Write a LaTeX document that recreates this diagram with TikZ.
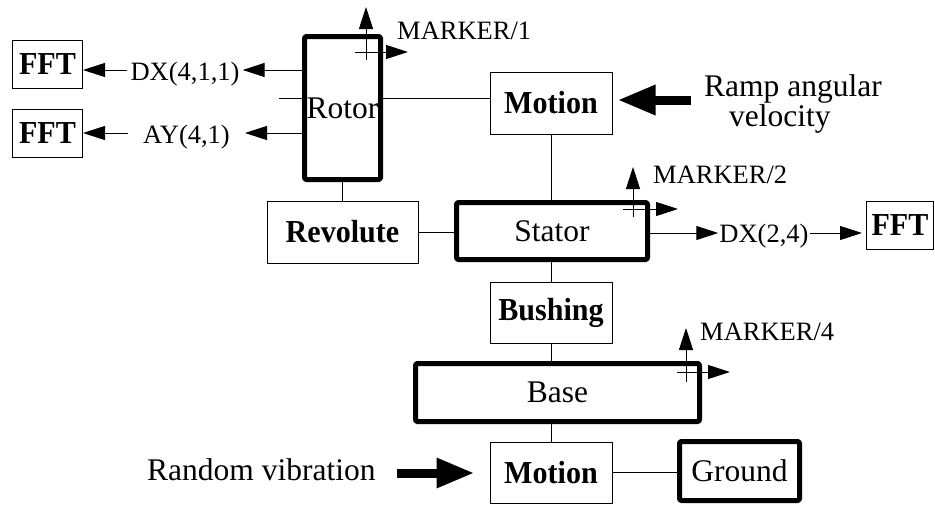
\documentclass[tikz,border=0pt]{standalone}
\usepackage{fontspec}
\setmainfont{Liberation Serif}
\newfontfamily\condbold[FakeStretch=0.94]{Liberation Serif Bold}
\usetikzlibrary{arrows.meta,calc}
\newcommand\fmain{\fontsize{31.5}{36}\selectfont}
\newcommand\fbld{\condbold\fontsize{32}{36}\selectfont}
\newcommand\flbl{\fontsize{26.5}{30}\selectfont}
\newcommand\ffft{\condbold\fontsize{32}{34}\selectfont}
\begin{document}
\begin{tikzpicture}[x=1pt,y=1pt,
  thinbox/.style={draw, line width=1pt, inner sep=0pt, font=\fbld},
  thickbox/.style={draw, line width=5pt, line join=round, rounded corners=1.5pt, inner sep=0pt, font=\fmain},
  fftbox/.style={draw, line width=1pt, inner sep=0pt, minimum width=70pt, minimum height=48pt, font=\ffft},
  wire/.style={line width=1pt},
  sig/.style={line width=1pt, -{Triangle[length=22pt,width=14pt]}},
  bigarrow/.style={line width=9pt, -{Triangle[length=38pt,width=28pt]}},
  lbl/.style={font=\flbl, inner ysep=0pt},
  txt/.style={font=\fmain, inner sep=0pt},
]
\useasboundingbox (0,0) rectangle (935,-506);

% boxes
\node[fftbox] (fft1) at (47.5,-64) {FFT};
\node[fftbox] (fft2) at (47.5,-133.5) {FFT};
\node[fftbox, minimum width=67pt] (fft3) at (900,-225) {FFT};
\node[thickbox, minimum width=76pt, minimum height=143pt] (rotor) at (342.5,-108) {Rotor};
\node[thinbox, minimum width=122pt, minimum height=62pt] (m1) at (551,-103) {Motion};
\node[thinbox, minimum width=151pt, minimum height=62pt] (rev) at (342.5,-232) {Revolute};
\node[thickbox, minimum width=191pt, minimum height=57pt] (stator) at (552,-231) {Stator};
\node[thinbox, minimum width=122pt, minimum height=61pt] (bush) at (551,-312.5) {Bushing};
\node[thickbox, minimum width=284pt, minimum height=58pt] (base) at (557.5,-392.5) {Base};
\node[thinbox, minimum width=122pt, minimum height=61pt] (m2) at (551,-472.5) {Motion};
\node[thickbox, minimum width=120pt, minimum height=59pt] (ground) at (739.5,-471) {Ground};

% plain connectors
\coordinate (rl) at (279,-98);
\draw[wire] (rl) -- (rl -| rotor.west);
\draw[wire] (rl -| rotor.east) -- (rl -| m1.west);
\draw[wire] (rotor.south) -- (rev.north);
\draw[wire] (m1.south) -- (m1.south |- stator.north);
\draw[wire] (rev.east) -- (rev.east -| stator.west);
\draw[wire] (bush.north |- stator.south) -- (bush.north);
\draw[wire] (bush.south) -- (bush.south |- base.north);
\draw[wire] (m2.north |- base.south) -- (m2.north);
\draw[wire] (m2.east) -- (m2.east -| ground.west);

% output signals
\node[lbl, inner xsep=3pt, anchor=base] (dx1) at (185,-80) {DX(4,1,1)};
\coordinate (y1) at (0,-70);
\draw[sig] (y1 -| rotor.west) -- (y1 -| dx1.east);
\draw[sig] (y1 -| dx1.west) -- (y1 -| fft1.east);

\node[lbl, inner xsep=15pt, anchor=base] (ay) at (186.5,-143) {AY(4,1)};
\coordinate (y2) at (0,-133);
\draw[sig] (y2 -| rotor.west) -- (y2 -| ay.east);
\draw[sig] (y2 -| ay.west) -- (y2 -| fft2.east);

\node[lbl, inner xsep=1pt, anchor=base] (dx2) at (764,-242) {DX(2,4)};
\coordinate (y3) at (0,-233);
\draw[sig] (y3 -| stator.east) -- (y3 -| dx2.west);
\draw[sig, shorten >=4pt] (y3 -| dx2.east) -- (y3 -| fft3.west);

% markers
\coordinate (mk1) at (366,-52);
\draw[sig] ($(mk1)+(0,-8)$) -- ($(mk1)+(0,45)$);
\draw[sig] ($(mk1)+(-11,0)$) -- ($(mk1)+(42,0)$);
\node[lbl, inner sep=0pt, anchor=base west] (mk1l) at (397,-39) {MARKER/1};

\coordinate (mk2) at (633,-209);
\draw[sig] ($(mk2)+(0,-8)$) -- ($(mk2)+(0,42)$);
\draw[sig] ($(mk2)+(-10,0)$) -- ($(mk2)+(45,0)$);
\node[lbl, inner sep=0pt, anchor=base west] (mk2l) at (653,-183) {MARKER/2};

\coordinate (mk4) at (686,-372);
\draw[sig] ($(mk4)+(0,-10)$) -- ($(mk4)+(0,44)$);
\draw[sig] ($(mk4)+(-9,0)$) -- ($(mk4)+(44,0)$);
\node[lbl, inner sep=0pt, anchor=base west] (mk4l) at (700,-340) {MARKER/4};

% inputs
\node[txt, font=\fontsize{31.5}{30}\selectfont, align=left, anchor=north west] (ramp) at (704,-74) {Ramp angular\\\hspace*{25pt}velocity};
\coordinate (rampt) at (691,-100);
\draw[bigarrow, shorten >=5pt] (rampt) -- (rampt -| m1.east);

\node[txt, anchor=base west] (rv) at (147,-480) {Random vibration};
\coordinate (rvt) at (397,-473);
\draw[bigarrow, shorten >=15pt] (rvt) -- (rvt -| m2.west);
\end{tikzpicture}
\end{document}
